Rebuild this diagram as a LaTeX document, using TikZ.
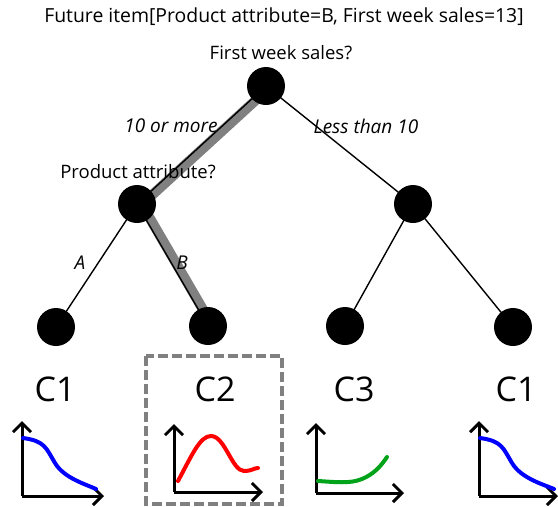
\documentclass[tikz,border=0pt]{standalone}
\usepackage{fontspec}
\setmainfont{Open Sans}
\usetikzlibrary{arrows.meta}
\tikzset{
  treenode/.style={circle, fill=black, minimum size=38pt, inner sep=0pt},
  edge/.style={line width=1.4pt},
  pathband/.style={line width=10pt, draw=gray},
  lbl/.style={font=\fontsize{18.5}{20}\selectfont},
  titlelbl/.style={font=\fontsize{19.4}{21}\selectfont},
  elbl/.style={font=\fontsize{19}{21}\selectfont\itshape},
  cls/.style={font=\fontsize{34}{36}\selectfont},
  axis/.style={line width=3pt, -{Straight Barb[length=9pt,width=18pt,line width=3pt]}},
  curve/.style={line width=4pt, line cap=round},
}
\begin{document}
\begin{tikzpicture}[x=1pt, y=-1pt]
\useasboundingbox (0,0) rectangle (558,507);

% tree node positions
\coordinate (root) at (266,86);
\coordinate (L) at (137,204);
\coordinate (R) at (413,204);
\coordinate (LL) at (56,327);
\coordinate (LR) at (208,326);
\coordinate (RL) at (345,326);
\coordinate (RR) at (513,327);

% highlighted decision path (grey band beneath the edges)
\draw[pathband] ([shift={(2.5,2.5)}]root) -- ([shift={(2.5,2.5)}]L);
\draw[pathband] ([shift={(3.5,-1.8)}]L) -- ([shift={(3.5,-1.8)}]LR);

% edges
\draw[edge] (root) -- (L);
\draw[edge] (root) -- (R);
\draw[edge] (L) -- (LL);
\draw[edge] (L) -- (LR);
\draw[edge] (R) -- (RL);
\draw[edge] (R) -- (RR);

% nodes
\foreach \n in {root, L, R, LL, LR, RL, RR}
  \node[treenode] (n-\n) at (\n) {};

% header and question texts
\node[titlelbl] (title) at (284,17) {Future item[Product attribute=B, First week sales=13]};
\node[lbl] (q1) at (281,53) {First week sales?};
\node[lbl] (q2) at (138,172) {Product attribute?};

% edge labels
\node[elbl] (e1) at (171,126) {10 or more};
\node[elbl] (e2) at (366,126) {Less than 10};
\node[elbl] (e3) at (80,263) {A};
\node[elbl] (e4) at (182,263) {B};

% class labels
\node[cls] (c1) at (55,389) {C1};
\node[cls] (c2) at (215,389) {C2};
\node[cls] (c3) at (354,389) {C3};
\node[cls] (c4) at (516,389) {C1};

% selected leaf frame
\draw[gray, line width=3.5pt, dash pattern=on 10pt off 4pt] (146,356) rectangle (282,504);

% mini plots
% C1 (left)
\draw[axis] (22,496) -- (22,421);
\draw[axis] (22,496) -- (104,496);
\draw[curve, blue] (23,438) .. controls (45,441) and (46,448) .. (55,463)
  .. controls (64,478) and (85,484) .. (96,489);
% C2
\draw[axis] (174,492) -- (174,424);
\draw[axis] (174,492) -- (263,492);
\draw[curve, red] (178,481) .. controls (192,455) and (200,436) .. (211,436)
  .. controls (225,436) and (232,471) .. (244,471)
  .. controls (252,471) and (254,468) .. (258,468);
% C3
\draw[axis] (316,493) -- (316,423);
\draw[axis] (316,493) -- (404,493);
\draw[curve, green!60!black!90!cyan] (318,481) .. controls (335,482) and (350,484) .. (362,479)
  .. controls (374,474) and (381,466) .. (387,457);
% C1 (right)
\draw[axis] (479,496) -- (479,421);
\draw[axis] (479,496) -- (558,496);
\draw[curve, blue] (480,438) .. controls (502,441) and (503,448) .. (512,463)
  .. controls (521,478) and (542,484) .. (554,489);
\end{tikzpicture}
\end{document}
